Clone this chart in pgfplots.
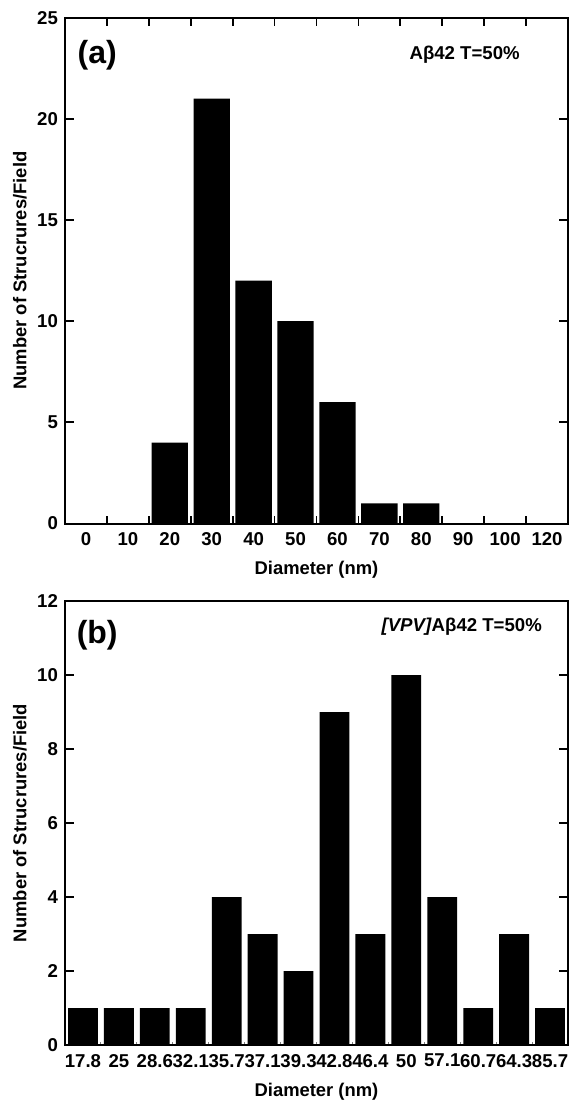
\documentclass[border=0pt]{standalone}
\usepackage{fontspec}
\setmainfont{Liberation Sans}
\usepackage{pgfplots}
\pgfplotsset{compat=1.18}

% counts per size class
\pgfplotstableread{
x n
0 0
1 0
2 4
3 21
4 12
5 10
6 6
7 1
8 1
9 0
10 0
11 0
}\histA
\pgfplotstableread{
x n
0 1
1 1
2 1
3 1
4 4
5 3
6 2
7 9
8 3
9 10
10 4
11 1
12 3
13 1
}\histB

\pgfplotsset{
  panel/.style={
    scale only axis, anchor=south west, width=251.5pt,
    ymin=0,
    axis line style={line width=1pt},
    major tick length=4.5pt,
    tick style={black},
    major x tick style={draw=none},
    tick label style={font=\fontsize{9.3}{11}\selectfont\bfseries},
    label style={font=\fontsize{9.2}{11}\selectfont\bfseries},
    /pgf/number format/assume math mode=true,
    xlabel={Diameter (nm)},
    ylabel={Number of Strucrures/Field},
    ylabel style={at={(axis description cs:-0.0895,0.5)}, anchor=center},
    xticklabel style={yshift=-1pt},
  }
}

\begin{document}
\begin{tikzpicture}[x=1pt,y=1pt]
\useasboundingbox (0,0) rectangle (284.5,-550.5);

\begin{axis}[panel,
  at={(32.5pt,-261.75pt)}, height=252.9pt,
  xmin=-0.5, xmax=11.5, ymax=25,
  xtick={0,...,11},
  xticklabels={0,10,20,30,40,50,60,70,80,90,100,120},
  minor xtick={0.5,1.5,...,10.5},
  minor tick length=4pt,
  minor x tick style={line width=0.9pt},
  y tick style={line width=0.9pt},
  ytick={0,5,...,25},
  xlabel style={at={(axis description cs:0.5,-0.1018)}, anchor=base},
]
\addplot[ybar, bar width=0.865, fill=black, draw=none] table[x=x,y=n] {\histA};
\node[font=\fontsize{16}{18}\selectfont\bfseries, anchor=center] at (axis description cs:0.064,0.925) {(a)};
\node[font=\fontsize{9.3}{11}\selectfont\bfseries, anchor=base east] at (axis description cs:0.918,0.918) {Aβ42 T=50\%};
\end{axis}

\begin{axis}[panel,
  at={(32.5pt,-522.5pt)}, height=222pt,
  xmin=-0.5, xmax=13.5, ymax=12,
  xtick={0,...,13},
  xticklabels={17.8,25,28.6,32.1,35.7,37.1,39.3,42.8,46.4,50,57.1,60.7,64.3,85.7},
  minor xtick={0.5,1.5,...,12.5},
  minor tick length=1.5pt,
  minor x tick style={line width=0.5pt, gray},
  xtick pos=bottom,
  y tick style={line width=0.6pt},
  ytick={0,2,...,12},
  xlabel style={at={(axis description cs:0.5,-0.117)}, anchor=base},
]
\addplot[ybar, bar width=0.83, fill=black, draw=none] table[x=x,y=n] {\histB};
\node[font=\fontsize{16}{18}\selectfont\bfseries, anchor=center] at (axis description cs:0.064,0.924) {(b)};
\node[font=\fontsize{9.3}{11}\selectfont\bfseries, anchor=base east] at (axis description cs:0.962,0.932) {\textit{[VPV]}Aβ42 T=50\%};
\end{axis}
\end{tikzpicture}
\end{document}
